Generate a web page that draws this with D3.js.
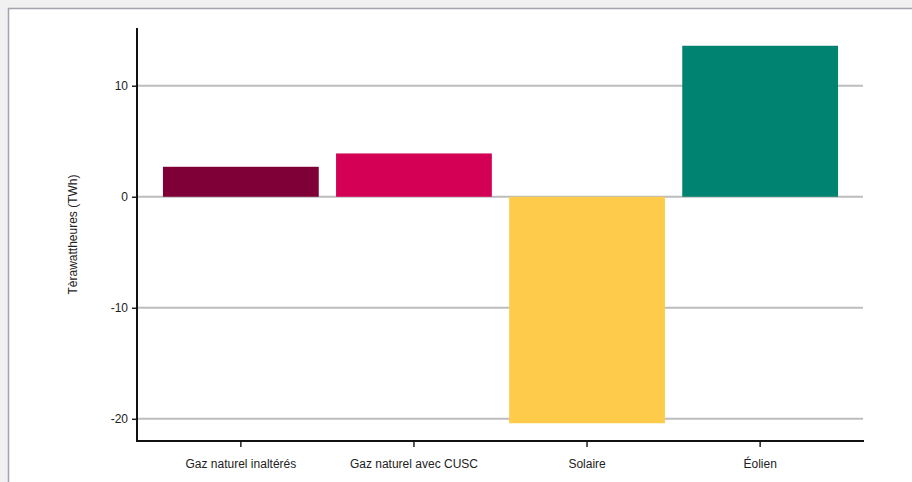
<!DOCTYPE html>
<html><head><meta charset="utf-8">
<script src="https://cdn.jsdelivr.net/npm/d3@7"></script>
<style>
html,body{margin:0;padding:0;background:#f1f1f1;}
svg{display:block;}
</style></head>
<body>
<script>
const categories = ["Gaz naturel inaltérés", "Gaz naturel avec CUSC", "Solaire", "Éolien"];
const values = [2.7, 3.9, -20.4, 13.6];
const colors = ["#7f0036", "#d40055", "#fecb4a", "#008471"];
const yTicks = [-20, -10, 0, 10];
const yLabel = "Tèrawattheures (TWh)";

(function () {
const W = 912, H = 482;
const svg = d3.select("body").append("svg").attr("width", W).attr("height", H);
svg.append("rect").attr("x", 8.5).attr("y", 8.5).attr("width", W).attr("height", H)
  .attr("fill", "#fff").attr("stroke", "#a2a4b0").attr("stroke-width", 1.5);

const mLeft = 137, mRight = 864, mTop = 28, mBottom = 441;
const x = d3.scaleBand().domain(categories).range([mLeft, mRight]).paddingInner(0.1).paddingOuter(0.15);
const y = d3.scaleLinear().domain([-22, 15.2]).range([mBottom, mTop]);

// gridlines
svg.append("g").selectAll("line").data(yTicks).join("line")
  .attr("x1", mLeft).attr("x2", mRight - 1)
  .attr("y1", d => y(d)).attr("y2", d => y(d))
  .attr("stroke", "#bdbdbd").attr("stroke-width", 2);

// bars
svg.append("g").selectAll("rect").data(values).join("rect")
  .attr("x", (d, i) => x(categories[i]))
  .attr("width", x.bandwidth())
  .attr("y", d => y(Math.max(0, d)))
  .attr("height", d => Math.abs(y(d) - y(0)))
  .attr("fill", (d, i) => colors[i]);

// y axis
const yAxis = svg.append("g").attr("transform", `translate(${mLeft},0)`)
  .call(d3.axisLeft(y).tickValues(yTicks).tickSize(5).tickPadding(4).tickFormat(d => String(d)));
yAxis.select(".domain").remove();
yAxis.selectAll(".tick line").attr("stroke", "#222").attr("stroke-width", 1.5);
yAxis.selectAll("text").attr("font-family", "Liberation Sans, Arial, sans-serif").attr("font-size", 12).attr("fill", "#222");

// x axis
const xAxis = svg.append("g").attr("transform", `translate(0,${mBottom})`)
  .call(d3.axisBottom(x).tickSize(6).tickPadding(12));
xAxis.select(".domain").remove();
xAxis.selectAll(".tick line").attr("stroke", "#222").attr("stroke-width", 1.5);
xAxis.selectAll("text").attr("font-family", "Liberation Sans, Arial, sans-serif").attr("font-size", 12).attr("fill", "#222");

// axis lines
svg.append("path")
  .attr("d", `M${mLeft},${mTop}V${mBottom}H${mRight}`)
  .attr("fill", "none").attr("stroke", "#111").attr("stroke-width", 2);

svg.append("text")
  .attr("transform", `translate(77,${(mTop + mBottom) / 2}) rotate(-90)`)
  .attr("text-anchor", "middle")
  .attr("font-family", "Liberation Sans, Arial, sans-serif").attr("font-size", 12).attr("fill", "#222")
  .text(yLabel);
})();
</script>
</body></html>
